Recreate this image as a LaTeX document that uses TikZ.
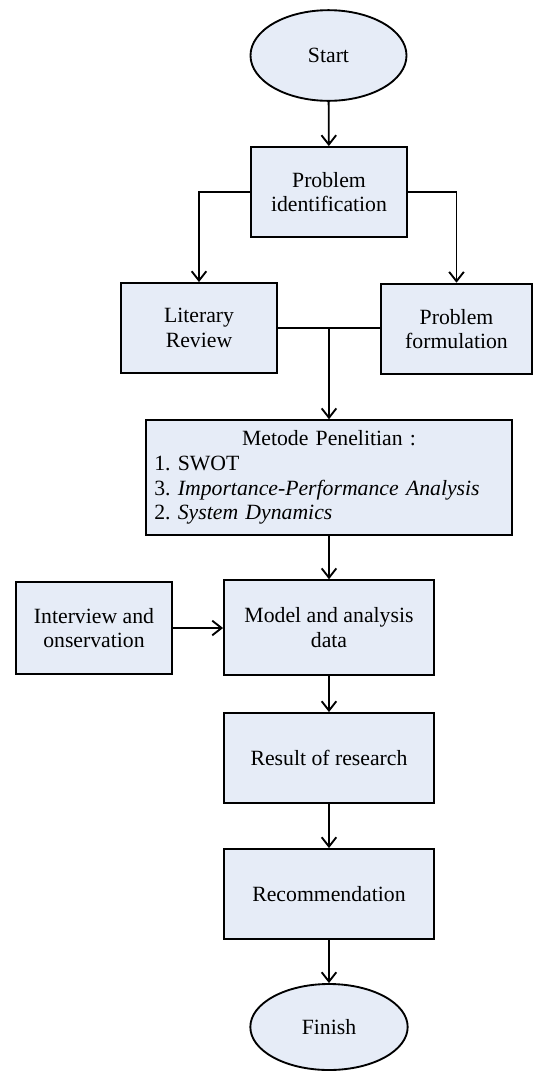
\documentclass[tikz,border=0pt]{standalone}
\usepackage{fontspec}
\setmainfont{Liberation Serif}
\frenchspacing
\usetikzlibrary{arrows.meta,shapes.geometric}

\tikzset{every picture/.style={line width=1.4pt}}
\tikzset{
  flowbox/.style={draw, line width=1.4pt, fill={rgb, 255:red, 230; green, 236; blue, 247 }, fill opacity=1, text opacity=1,
    align=center, inner sep=4pt, font=\fontsize{16.3}{18.5}\selectfont},
  flowend/.style={flowbox, ellipse},
  flowarr/.style={line width=1.4pt, -{Straight Barb[length=7pt,width=11pt,line width=1.4pt]}}
}

\begin{document}
\begin{tikzpicture}[x=0.75pt,y=0.75pt,yscale=-1,xscale=1,line width=1.4pt]
\useasboundingbox (0,0) rectangle (533,1072);

%Shape: Ellipse [id:start]
\node [flowend, minimum width=117pt, minimum height=68pt] (start) at (328.5,55.5) {Start};
%Shape: Rectangle [id:pid]
\node [flowbox, minimum width=117pt, minimum height=67.5pt] (pid) at (329,192) {Problem\\identification};
%Shape: Rectangle [id:lit]
\node [flowbox, minimum width=117pt, minimum height=67.5pt] (lit) at (199,328) {Literary\\Review};
%Shape: Rectangle [id:pform]
\node [flowbox, minimum width=113pt, minimum height=68pt] (pform) at (456.5,329) {Problem\\formulation};
%Shape: Rectangle [id:metode]
\node [flowbox, minimum width=274.5pt, minimum height=86pt, text width=262pt, align=left] (metode) at (329,477.5)
  {\makebox[\linewidth][c]{Metode Penelitian :}\\
   1. SWOT\\
   3. \textit{Importance-Performance Analysis}\\
   2. \textit{System Dynamics}};
%Shape: Rectangle [id:model]
\node [flowbox, minimum width=157.5pt, minimum height=71pt] (model) at (329,627.5) {Model and analysis\\data};
%Shape: Rectangle [id:intv]
\node [flowbox, minimum width=117pt, minimum height=69pt] (intv) at (94,628) {Interview and\\onservation};
%Shape: Rectangle [id:result]
\node [flowbox, minimum width=157.5pt, minimum height=67.5pt] (result) at (329,758) {Result of research};
%Shape: Rectangle [id:rec]
\node [flowbox, minimum width=157.5pt, minimum height=67.5pt] (rec) at (329,894) {Recommendation};
%Shape: Ellipse [id:finish]
\node [flowend, minimum width=118pt, minimum height=64.5pt] (finish) at (329,1027) {Finish};

%Straight Lines
\draw [flowarr] (start) -- (pid);
\draw [flowarr] (pid.west) -| (lit.north);
\draw [flowarr] (pid.east) -| (pform.north);
\draw (lit.east) -- (lit.east -| pform.west);
\coordinate (join) at (lit.east -| metode.north);
\draw [flowarr] (join) -- (metode.north);
\draw [flowarr] (metode) -- (model);
\draw [flowarr] (intv.east) -- (intv.east -| model.west);
\draw [flowarr] (model) -- (result);
\draw [flowarr] (result) -- (rec);
\draw [flowarr] (rec) -- (finish);
\end{tikzpicture}
\end{document}
